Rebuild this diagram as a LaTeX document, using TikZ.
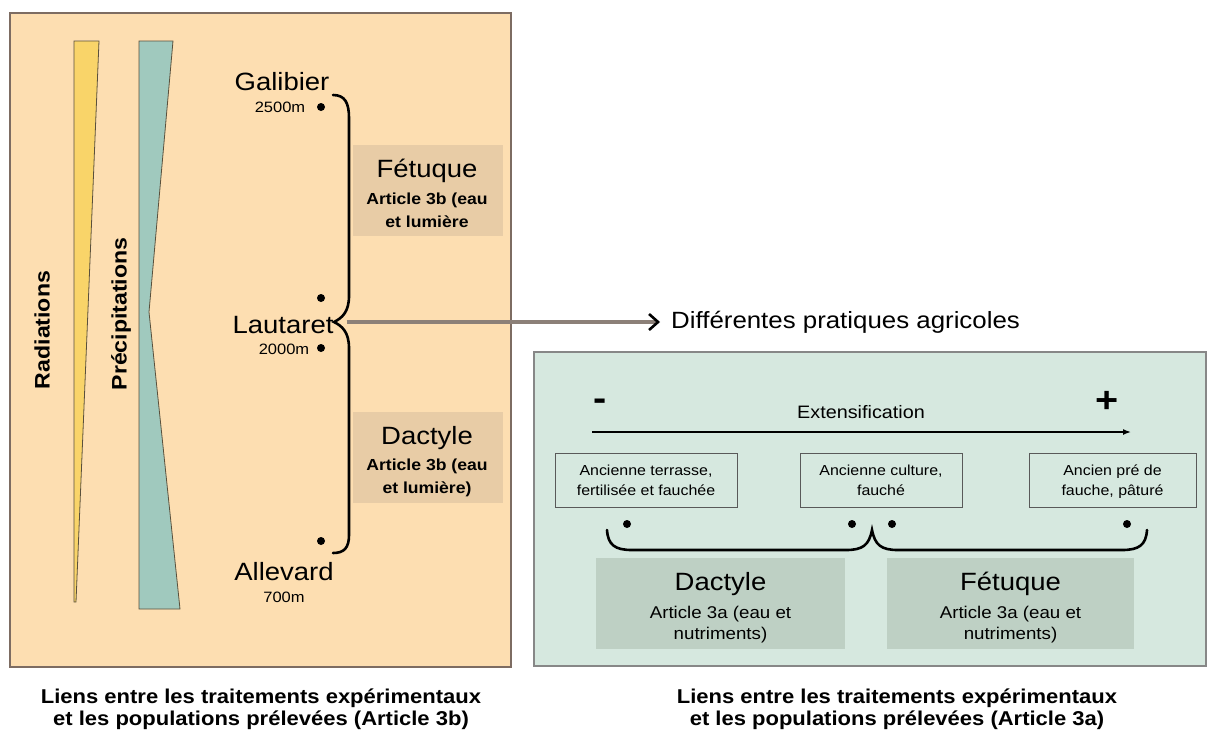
\documentclass[tikz,border=0pt]{standalone}
\usepackage{fontspec}
\setmainfont{Liberation Sans}[FakeStretch=1.1]
\usetikzlibrary{arrows.meta}
\definecolor{peach}{RGB}{253,222,177}
\definecolor{tanbox}{RGB}{232,204,166}
\definecolor{ybar}{RGB}{249,212,105}
\definecolor{tbar}{RGB}{160,201,190}
\definecolor{mint}{RGB}{214,232,223}
\definecolor{sage}{RGB}{190,208,196}
\definecolor{lborder}{RGB}{125,108,98}
\definecolor{rborder}{RGB}{135,135,135}
\definecolor{barline}{RGB}{90,80,60}
\definecolor{arrline}{RGB}{140,128,120}
\newcommand\myfs[1]{\fontsize{#1}{#1}\selectfont}
\begin{document}
\begin{tikzpicture}[x=1pt,y=-1pt,
  t/.style={inner sep=0pt, anchor=base},
  dotnode/.style={circle, fill=black, inner sep=0pt, minimum size=8pt},
  bracket/.style={line width=2.6pt, line cap=round},
  tanrect/.style={fill=tanbox, draw=none, inner sep=0pt, minimum width=150pt, minimum height=91pt},
  pracbox/.style={draw=black!65, line width=1pt, fill=mint, inner sep=0pt, minimum height=54pt},
  sagerect/.style={fill=sage, draw=none, inner sep=0pt, minimum height=91pt},
  caption/.style={t, font=\bfseries\myfs{20}}]
\useasboundingbox (0,0) rectangle (1209,731);
\fill[white] (0,0) rectangle (1209,731);

% ---------- left panel ----------
\draw[lborder, line width=2pt, fill=peach] (10,13) rectangle (511,667);
\draw[fill=ybar, draw=barline, line width=0.8pt] (74,41) -- (99,41) -- (76,602) -- (74,602) -- cycle;
\draw[fill=tbar, draw=barline, line width=0.8pt] (139,41) -- (173,41) -- (149,312) -- (180,609) -- (139,609) -- cycle;
\node[rotate=90, inner sep=0pt, font=\bfseries\myfs{21}] (rad) at (42,330) {Radiations};
\node[rotate=90, inner sep=0pt, font=\bfseries\myfs{21}] (prec) at (121,314) {Précipitations};

\node[t, font=\myfs{25}] (gal) at (282,90) {Galibier};
\node[t, font=\myfs{15}] (galalt) at (280,112) {2500m};
\node[t, font=\myfs{25}] (laut) at (283,333) {Lautaret};
\node[t, font=\myfs{15}] (lautalt) at (284,354) {2000m};
\node[t, font=\myfs{25}] (alle) at (284,580) {Allevard};
\node[t, font=\myfs{15}] (allealt) at (284,602) {700m};

\node[dotnode] (d1) at (321,107) {};
\node[dotnode] (d2) at (321,298) {};
\node[dotnode] (d3) at (321,348) {};
\node[dotnode] (d4) at (321,541) {};

\draw[bracket] (333,95) .. controls (345,95) and (349,103) .. (349,118)
  -- (349,296) .. controls (349,312) and (342,318) .. (334,322)
  .. controls (342,326) and (349,332) .. (349,348)
  -- (349,535) .. controls (349,548) and (344,553) .. (333,553);

\node[tanrect] (fetL) at (428,190.5) {};
\node[t, font=\myfs{25}] (fetLt) at (427,177) {Fétuque};
\node[t, font=\bfseries\myfs{16}] (fetLa) at (427,204) {Article 3b (eau};
\node[t, font=\bfseries\myfs{16}] (fetLb) at (427,227) {et lumière};

\node[tanrect] (dacL) at (428,457) {};
\node[t, font=\myfs{25}] (dacLt) at (427,444) {Dactyle};
\node[t, font=\bfseries\myfs{16}] (dacLa) at (427,470) {Article 3b (eau};
\node[t, font=\bfseries\myfs{16}] (dacLb) at (427,493) {et lumière)};

% ---------- arrow to practices ----------
\node[t, anchor=base west, font=\myfs{23.5}] (diff) at (671,328) {Différentes pratiques agricoles};
\draw[arrline, line width=3.2pt,
      -{Straight Barb[length=9pt, width=16pt, line width=2.6pt, color=black]}]
  ([xshift=13pt]laut.base east |- 0,322) -- ([xshift=-11pt]diff.base west |- 0,322);

% ---------- right panel ----------
\draw[rborder, line width=2pt, fill=mint] (534,352) rectangle (1206,666);
\node[font=\bfseries\myfs{36}, inner sep=0pt] (minus) at (600,405) {-};
\node[font=\bfseries\myfs{36}, inner sep=0pt] (plus) at (1107,402) {+};
\node[t, font=\myfs{18}] (ext) at (861,418) {Extensification};
\coordinate (extA) at (592,432);
\coordinate (extB) at (1131,432);
\draw[line width=1.5pt, -{Latex[length=8pt, width=6pt]}] (extA) -- (extB);

\node[pracbox, minimum width=182pt] (b1) at (646,480) {};
\node[pracbox, minimum width=162pt] (b2) at (881,480) {};
\node[pracbox, minimum width=167pt] (b3) at (1112.5,480) {};
\node[t, font=\myfs{14.5}] (b1a) at (646,475) {Ancienne terrasse,};
\node[t, font=\myfs{14.5}] (b1b) at (646,495) {fertilisée et fauchée};
\node[t, font=\myfs{14.5}] (b2a) at (881,475) {Ancienne culture,};
\node[t, font=\myfs{14.5}] (b2b) at (881,495) {fauché};
\node[t, font=\myfs{14.5}] (b3a) at (1112.5,475) {Ancien pré de};
\node[t, font=\myfs{14.5}] (b3b) at (1112.5,495) {fauche, pâturé};

\node[dotnode] (e1) at (627,524) {};
\node[dotnode] (e2) at (852,524) {};
\node[dotnode] (e3) at (892,524) {};
\node[dotnode] (e4) at (1127,524) {};

\draw[bracket] (607,530) .. controls (608,545) and (615,550) .. (632,550)
  -- (846,550) .. controls (863,550) and (869,545) .. (872,530)
  .. controls (875,545) and (881,550) .. (898,550)
  -- (1122,550) .. controls (1139,550) and (1146,545) .. (1147,530);

\node[sagerect, minimum width=249pt] (dacR) at (720.5,603.5) {};
\node[t, font=\myfs{25}] (dacRt) at (720.5,590) {Dactyle};
\node[t, font=\myfs{17}] (dacRa) at (720.5,618) {Article 3a (eau et};
\node[t, font=\myfs{17}] (dacRb) at (720.5,639) {nutriments)};

\node[sagerect, minimum width=247pt] (fetR) at (1010.5,603.5) {};
\node[t, font=\myfs{25}] (fetRt) at (1010.5,590) {Fétuque};
\node[t, font=\myfs{17}] (fetRa) at (1010.5,618) {Article 3a (eau et};
\node[t, font=\myfs{17}] (fetRb) at (1010.5,639) {nutriments)};

% ---------- captions ----------
\node[caption] (capL1) at (261,703) {Liens entre les traitements expérimentaux};
\node[caption] (capL2) at (261,725) {et les populations prélevées (Article 3b)};
\node[caption] (capR1) at (897,703) {Liens entre les traitements expérimentaux};
\node[caption] (capR2) at (897,725) {et les populations prélevées (Article 3a)};
\end{tikzpicture}
\end{document}
